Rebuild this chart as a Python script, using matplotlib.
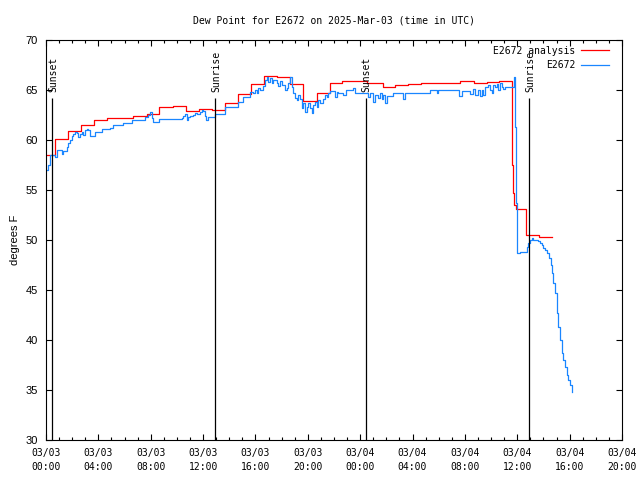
import matplotlib
matplotlib.use("Agg")
import matplotlib.pyplot as plt
from matplotlib.ticker import MultipleLocator

# ---- data (time in hours since 2025-03-03 00:00 UTC) ----
red_t = [0.0, 0.69, 1.66, 2.67, 3.64, 4.66, 5.67, 6.66, 7.69, 8.66, 9.67, 10.67,
         11.67, 12.67, 13.67, 14.67, 15.67, 16.67, 17.67, 18.67, 19.64, 20.67,
         21.67, 22.62, 23.67, 24.55, 25.72, 26.67, 27.67, 28.67, 29.67, 30.67,
         31.64, 32.67, 33.67, 34.6, 35.58, 35.65, 35.75, 35.9, 36.67, 37.69, 38.63]
red_v = [58.5, 60.1, 60.9, 61.5, 62.0, 62.2, 62.2, 62.4, 62.6, 63.3, 63.4, 62.9,
         63.1, 63.0, 63.7, 64.6, 65.6, 66.4, 66.3, 65.6, 63.9, 64.7,
         65.7, 65.9, 65.9, 65.7, 65.3, 65.5, 65.6, 65.7, 65.7, 65.7,
         65.9, 65.7, 65.8, 65.9, 57.5, 54.7, 53.5, 53.1, 50.5, 50.3, 50.3]

blue_t = [0.05, 0.18, 0.31, 0.69, 0.82, 1.20, 1.32, 1.58, 1.70, 1.83, 1.96, 2.09,
          2.22, 2.35, 2.47, 2.60, 2.73, 2.85, 2.98, 3.11, 3.23, 3.36, 3.74, 4.25,
          4.89, 5.14, 5.86, 6.55, 7.56, 7.81, 7.94, 8.07, 8.20, 8.66, 10.37, 10.49,
          10.62, 10.75, 10.87, 11.00, 11.25, 11.38, 11.54, 11.76, 11.89, 12.02,
          12.15, 12.20, 12.40, 12.91, 13.67, 14.69, 15.07, 15.58, 15.84, 15.97,
          16.10, 16.22, 16.35, 16.60, 16.73, 16.86, 16.99, 17.11, 17.24, 17.36,
          17.62, 17.75, 17.88, 18.00, 18.26, 18.39, 18.51, 18.64, 18.77, 18.89,
          19.02, 19.15, 19.28, 19.40, 19.53, 19.65, 19.78, 19.91, 20.04, 20.17,
          20.29, 20.42, 20.55, 20.68, 20.80, 20.93, 21.18, 21.31, 21.44, 21.56,
          21.69, 22.07, 22.20, 22.33, 22.71, 22.90, 23.47, 23.60, 23.99, 24.62,
          24.75, 24.96, 25.13, 25.38, 25.51, 25.64, 25.77, 25.90, 26.03, 26.53,
          27.29, 27.42, 29.33, 29.84, 29.97, 31.57, 31.75, 32.39, 32.64, 32.77,
          33.02, 33.15, 33.28, 33.41, 33.54, 33.79, 33.92, 34.05, 34.17, 34.30,
          34.43, 34.55, 34.68, 34.81, 34.93, 35.06, 35.78, 35.83, 35.88, 35.95,
          36.00, 36.20, 36.72, 36.84, 36.97, 37.10, 37.23, 37.61, 37.74, 37.87,
          38.00, 38.12, 38.25, 38.45, 38.54, 38.63, 38.75, 38.88, 39.01, 39.13,
          39.26, 39.39, 39.52, 39.65, 39.77, 39.90, 40.03, 40.16]
blue_v = [57.0, 57.5, 58.5, 58.3, 59.0, 58.6, 58.9, 59.3, 59.7, 60.0, 60.4, 60.6,
          60.8, 60.7, 60.3, 60.6, 60.8, 60.5, 61.0, 61.1, 61.0, 60.4, 60.8, 61.1,
          61.2, 61.5, 61.7, 62.0, 62.3, 62.5, 62.8, 62.2, 61.8, 62.1, 62.2, 62.4,
          62.6, 62.0, 62.3, 62.4, 62.5, 62.7, 62.6, 62.8, 63.0, 62.9,
          62.4, 62.0, 62.3, 62.6, 63.3, 63.8, 64.3, 64.8, 64.7, 65.0,
          64.7, 65.2, 65.0, 65.4, 66.0, 66.3, 65.8, 66.2, 65.7, 66.0,
          65.7, 65.4, 65.9, 65.5, 65.0, 65.2, 65.7, 66.3, 65.3, 64.7,
          64.2, 64.0, 64.5, 64.1, 63.2, 63.7, 62.8, 63.3, 63.7, 63.2,
          62.7, 63.5, 63.8, 63.3, 64.0, 63.7, 64.1, 64.5, 64.3, 64.7,
          64.9, 64.3, 64.8, 64.7, 64.5, 65.0, 65.2, 64.7, 64.7, 64.3,
          64.7, 63.8, 64.5, 64.2, 64.7, 64.1, 64.5, 63.7, 64.4, 64.7,
          64.1, 64.7, 65.0, 64.7, 65.0, 64.4, 64.9, 64.6, 65.1, 64.5,
          65.0, 64.4, 65.0, 64.5, 65.3, 65.5, 65.0, 64.7, 65.5, 65.3,
          65.6, 65.0, 65.7, 65.3, 65.1, 65.3, 66.3, 61.3, 53.7, 50.0,
          48.7, 48.8, 49.3, 49.7, 50.0, 50.2, 50.0, 49.9, 49.7, 49.5,
          49.2, 49.0, 48.7, 48.2, 47.5, 46.7, 45.7, 44.7, 42.7, 41.3,
          40.0, 38.7, 38.0, 37.3, 36.5, 36.0, 35.5, 34.8]

sun_t = [0.47, 12.91, 24.42, 36.92]
sun_lbl = ["Sunset", "Sunrise", "Sunset", "Sunrise"]

xtick_hours = [0, 4, 8, 12, 16, 20, 24, 28, 32, 36, 40, 44]
xtick_labels = ["03/03\n00:00", "03/03\n04:00", "03/03\n08:00", "03/03\n12:00",
                "03/03\n16:00", "03/03\n20:00", "03/04\n00:00", "03/04\n04:00",
                "03/04\n08:00", "03/04\n12:00", "03/04\n16:00", "03/04\n20:00"]
yticks = [30, 35, 40, 45, 50, 55, 60, 65, 70]

MONO = "DejaVu Sans Mono"
SANS = "Liberation Sans"

fig = plt.figure(figsize=(6.4, 4.8), dpi=100)
ax = fig.add_axes([46/640, 40/480, 576/640, 400/480])

ax.plot(red_t, red_v, drawstyle="steps-post", color="#ff0000", lw=0.9,
        label="E2672 analysis")
ax.plot(blue_t, blue_v, drawstyle="steps-post", color="#1a86ff", lw=0.9,
        label="E2672")

for t, lbl in zip(sun_t, sun_lbl):
    ax.vlines(t, 30, 64.2, color="black", lw=0.9)
    ax.text(t + 0.08, 64.8, lbl, rotation=90, ha="center", va="bottom",
            family=MONO, fontsize=7)

ax.set_xlim(0, 44)
ax.set_ylim(30, 70)
ax.set_xticks(xtick_hours)
ax.set_xticklabels(xtick_labels, family=MONO, fontsize=7, linespacing=1.45)
ax.xaxis.set_minor_locator(MultipleLocator(1))
ax.set_yticks(yticks)
ax.set_yticklabels([str(v) for v in yticks], family=SANS, fontsize=8)

ax.tick_params(which="both", direction="in", top=True, right=True, width=0.8)
ax.tick_params(which="major", length=4.5)
ax.tick_params(which="minor", length=2.3)
ax.tick_params(axis="x", which="major", pad=6)
ax.tick_params(axis="y", which="major", pad=6)
for s in ax.spines.values():
    s.set_linewidth(0.8)

ax.set_ylabel("degrees F", family=SANS, fontsize=8, labelpad=4)
ax.set_title("Dew Point for E2672 on 2025-Mar-03 (time in UTC)",
             family=MONO, fontsize=7, pad=12)

leg = ax.legend(loc="upper right", bbox_to_anchor=(1 - 7/576, 1.0),
                frameon=False, markerfirst=False,
                prop={"family": MONO, "size": 7}, handlelength=2.9,
                handletextpad=0.6, labelspacing=0.45, borderaxespad=0.3,
                borderpad=0.3)

fig.savefig("out.png", dpi=100)
